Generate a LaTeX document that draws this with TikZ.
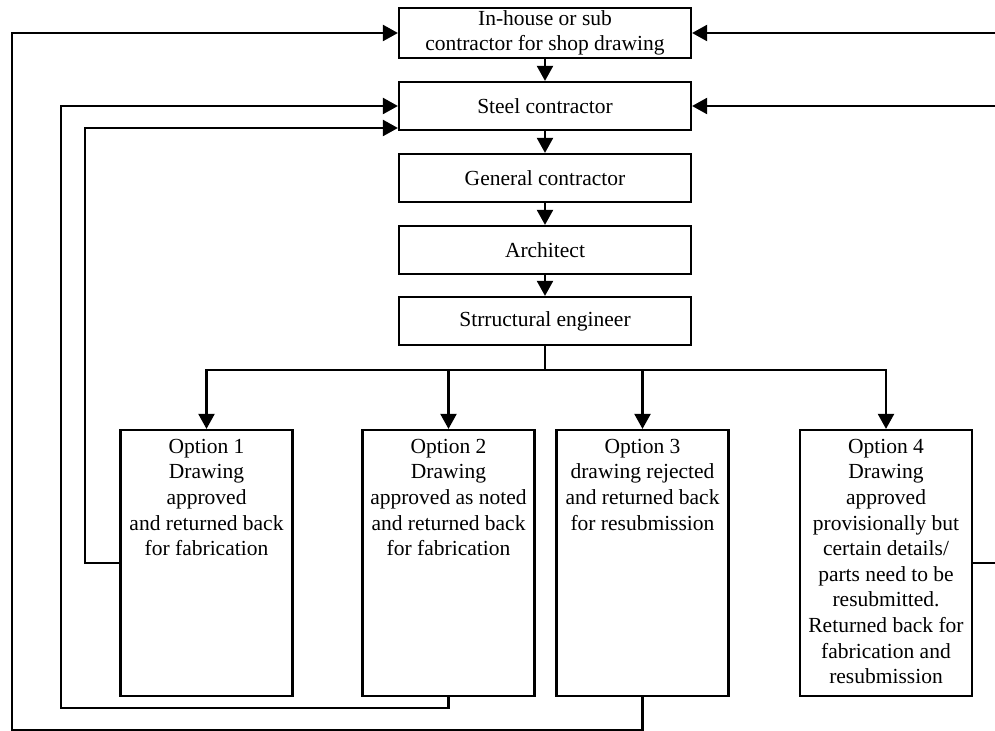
\documentclass[tikz,border=0pt]{standalone}
\usepackage{fontspec}
\setmainfont{Liberation Serif}
\usetikzlibrary{arrows.meta}

\begin{document}
\begin{tikzpicture}[x=0.5pt,y=-0.5pt,line width=1.1pt,
  >={Triangle[width=8pt,length=7.5pt]},
  box/.style={draw,minimum width=146pt,minimum height=24pt,inner sep=0pt,align=center,
    font=\fontsize{10.75}{12.8}\selectfont},
  optbox/.style={draw,minimum width=86pt,minimum height=133pt,inner sep=0pt},
  opttext/.style={anchor=north,inner sep=4.5pt,align=center,
    font=\fontsize{10.75}{12.8}\selectfont}]
\useasboundingbox (0,0) rectangle (995,731);

% main chain
\node[box,minimum height=25pt] (shop) at (545,33) {In-house or sub\\contractor for shop drawing};
\node[box] (steel) at (545,106) {Steel contractor};
\node[box] (general) at (545,178) {General contractor};
\node[box] (architect) at (545,250) {Architect};
\node[box] (struct) at (545,321) {Strructural engineer};

\draw[->] (shop) -- (steel);
\draw[->] (steel) -- (general);
\draw[->] (general) -- (architect);
\draw[->] (architect) -- (struct);

% options
\node[optbox] (opt1) at (206.5,563) {};
\node[optbox] (opt2) at (448.5,563) {};
\node[optbox] (opt3) at (642.5,563) {};
\node[optbox] (opt4) at (886,563) {};

\node[opttext] (opt1text) at (opt1.north) {Option 1\\Drawing\\approved\\and returned back\\for fabrication};
\node[opttext] (opt2text) at (opt2.north) {Option 2\\Drawing\\approved as noted\\and returned back\\for fabrication};
\node[opttext] (opt3text) at (opt3.north) {Option 3\\drawing rejected\\and returned back\\for resubmission};
\node[opttext] (opt4text) at (opt4.north) {Option 4\\Drawing\\approved\\provisionally but\\certain details/\\parts need to be\\resubmitted.\\Returned back for\\fabrication and\\resubmission};

\coordinate (branch) at (545,370);
\draw (struct.south) -- (branch);
\foreach \o in {opt1,opt2,opt3,opt4}
  \draw[->] (branch) -| (\o.north);

% return lines
\coordinate (laneA) at (12,730);
\coordinate (laneB) at (61,708);
\coordinate (laneC) at (85,563);
\coordinate (laneR) at (1004,300);

\draw[->] (opt1.west) -- (laneC) |- ([yshift=-11pt]steel.west);
\draw[->] (opt2.south) |- (laneB) |- (steel.west);
\draw[->] (opt3.south) |- (laneA) |- (shop.west);
\draw[->] (opt4.east) -| (laneR) |- (steel.east);
\draw[->] (laneR) |- (shop.east);
\end{tikzpicture}
\end{document}
